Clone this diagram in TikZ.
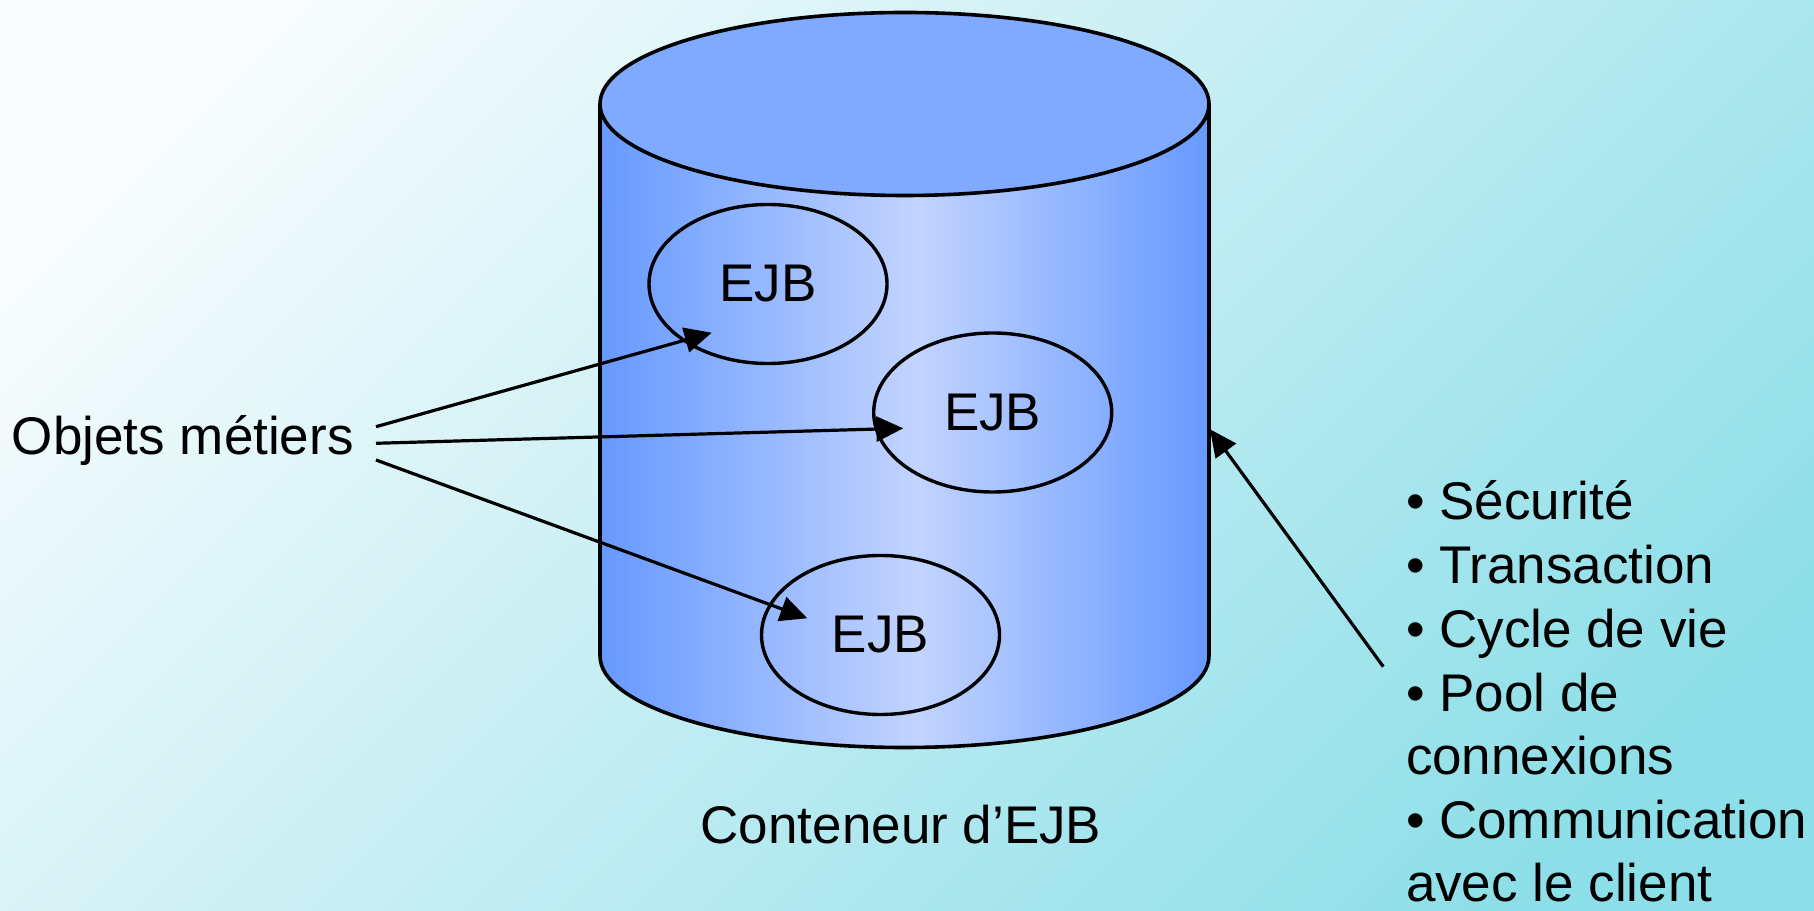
\documentclass[tikz,border=0pt]{standalone}
\usepackage{fontspec}
\setmainfont{Liberation Sans}
\usetikzlibrary{arrows.meta,shapes.geometric,calc}

\definecolor{bgcorner}{RGB}{248,252,253}
\definecolor{bgfar}{RGB}{140,222,232}
\definecolor{cylside}{RGB}{102,153,255}
\definecolor{cyllight}{RGB}{194,212,255}
\definecolor{cyltop}{RGB}{128,170,255}

% slide background: light corner top left, cyan towards bottom right
\pgfdeclareverticalshading{slidebg}{100bp}{color(0bp)=(bgfar); color(22bp)=(bgfar); color(78bp)=(bgcorner); color(100bp)=(bgcorner)}
% cylinder wall: darker at both sides, light band a little right of centre
\pgfdeclarehorizontalshading{cylbody}{100bp}{color(0bp)=(cylside); color(25bp)=(cylside); color(51bp)=(cyllight); color(75bp)=(cylside); color(100bp)=(cylside)}

\begin{document}
\begin{tikzpicture}[x=1pt,y=1pt,
  txt/.style={font=\fontsize{53}{63.5}\selectfont, inner sep=0pt, outer sep=0pt},
  outline/.style={line width=3.6pt, line join=round},
  ejb/.style={ellipse, draw, line width=3.4pt, minimum width=238pt, minimum height=159pt,
              inner sep=0pt, font=\fontsize{53}{63.5}\selectfont},
  link/.style={line width=3.2pt, -{Triangle[length=27pt,width=25pt]}}]

% background
\useasboundingbox (0,0) rectangle (1814,910);
\shade[shading=slidebg, shading angle=45] (0,0) rectangle (1814,910);

% container cylinder
\shade[shading=cylbody] (600,806) -- (600,254)
  arc[start angle=180, end angle=360, x radius=304.5, y radius=91.5]
  -- (1209,806)
  arc[start angle=0, end angle=-180, x radius=304.5, y radius=91.5] -- cycle;
\draw[outline] (600,806) -- (600,254)
  arc[start angle=180, end angle=360, x radius=304.5, y radius=91.5]
  -- (1209,806);
\draw[outline, fill=cyltop] (904.5,806) ellipse[x radius=304.5, y radius=91.5];

% beans inside the container
\node[ejb] (e1) at (768,626) {EJB};
\node[ejb] (e2) at (992.7,497.5) {EJB};
\node[ejb] (e3) at (880.5,275) {EJB};

% labels
\node[txt, anchor=base west] (obj) at (12,455) {Objets métiers};
\node[txt, anchor=base] (cont) at (901,66.5) {Conteneur d’EJB};

\node[txt, anchor=base west] (s1) at (1406,390)   {• Sécurité};
\node[txt, anchor=base west] (s2) at (1406,326)   {• Transaction};
\node[txt, anchor=base west] (s3) at (1406,262.3) {• Cycle de vie};
\node[txt, anchor=base west] (s4) at (1406,198.7) {• Pool de};
\node[txt, anchor=base west] (s5) at (1406,135.3) {connexions};
\node[txt, anchor=base west] (s6) at (1406,71.8)  {• Communication};
\node[txt, anchor=base west] (s7) at (1406,8.5)   {avec le client};

% arrow origins
\coordinate (o1) at (376,483.3);
\coordinate (o2) at (376,466.7);
\coordinate (o3) at (376,450);
\coordinate (svc) at (1383.3,243.3);
\coordinate (wall) at (1210,480.7);

% connectors
\draw[link] (o1) -- ($(e1.center)+(-56.3,-48.7)$);
\draw[link] (o2) -- ($(e2.center)+(-89.4,-15.8)$);
\draw[link] (o3) -- ($(e3.center)+(-73.2,16.7)$);
\draw[link] (svc) -- (wall);
\end{tikzpicture}
\end{document}
